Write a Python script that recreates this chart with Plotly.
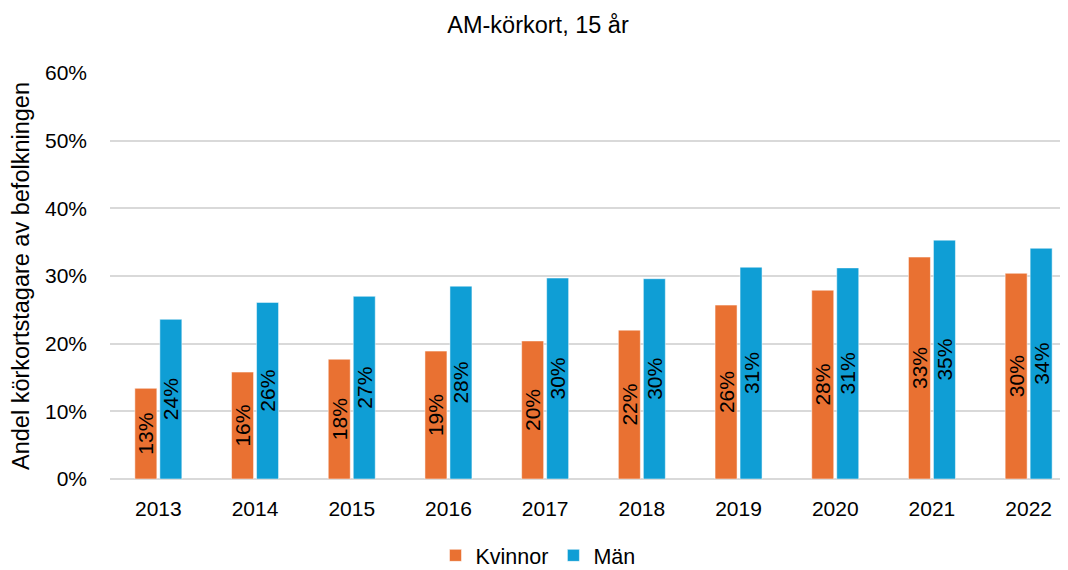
import plotly.graph_objects as go

years = ["2013", "2014", "2015", "2016", "2017", "2018", "2019", "2020", "2021", "2022"]
kvinnor = [0.134, 0.158, 0.177, 0.189, 0.204, 0.220, 0.257, 0.279, 0.328, 0.304]
man = [0.236, 0.261, 0.270, 0.285, 0.297, 0.296, 0.313, 0.312, 0.353, 0.341]
y_ticks = [0, 0.1, 0.2, 0.3, 0.4, 0.5, 0.6]
y_ticklabels = ["0%", "10%", "20%", "30%", "40%", "50%", "60%"]

FONT = "Liberation Sans"
ORANGE = "#E97132"
BLUE = "#0F9ED5"

fig = go.Figure()
for name, vals, col in [("Kvinnor", kvinnor, ORANGE), ("Män", man, BLUE)]:
    fig.add_trace(go.Bar(
        x=years, y=vals, name=name,
        marker=dict(color=col, line=dict(color="rgba(255,255,255,0.5)", width=1)),
        texttemplate="%{y:.0%}", textposition="inside", insidetextanchor="middle",
        textangle=-90, textfont=dict(family=FONT, size=21, color="black"),
        constraintext="none", cliponaxis=False,
    ))

# page body has an 8px margin, so the figure is sized/offset to compensate
fig.update_layout(
    width=1060, height=562,
    margin=dict(l=102, r=0, t=65, b=91),
    paper_bgcolor="white", plot_bgcolor="white",
    barmode="group", bargap=0.483, bargroupgap=0.12,
    font=dict(family=FONT, size=21, color="black"),
    title=dict(text="AM-körkort, 15 år", x=0.5, xanchor="center", y=0.97, yanchor="middle",
               font=dict(family=FONT, size=23.5, color="black")),
    legend=dict(orientation="h", x=0.5, xanchor="center", xref="container",
                y=0.026, yanchor="middle", yref="container",
                font=dict(family=FONT, size=21.5), itemwidth=30, traceorder="normal"),
    uniformtext=dict(mode=False),
)
fig.update_xaxes(
    type="category", range=[-0.5, 9.407], showgrid=False, zeroline=False,
    showline=False, ticks="", ticklabelstandoff=15,
    tickfont=dict(family=FONT, size=21),
)
fig.update_yaxes(
    range=[0, 0.6], tickvals=y_ticks, ticktext=y_ticklabels,
    showgrid=True, gridcolor="#d9d9d9", gridwidth=1.5,
    zeroline=True, zerolinecolor="#d9d9d9", zerolinewidth=1.5,
    showline=False, ticks="", ticklabelstandoff=22,
    tickfont=dict(family=FONT, size=21),
    title=dict(text="Andel körkortstagare av befolkningen", standoff=12,
               font=dict(family=FONT, size=23.5)),
)

fig.write_html("out.html")
